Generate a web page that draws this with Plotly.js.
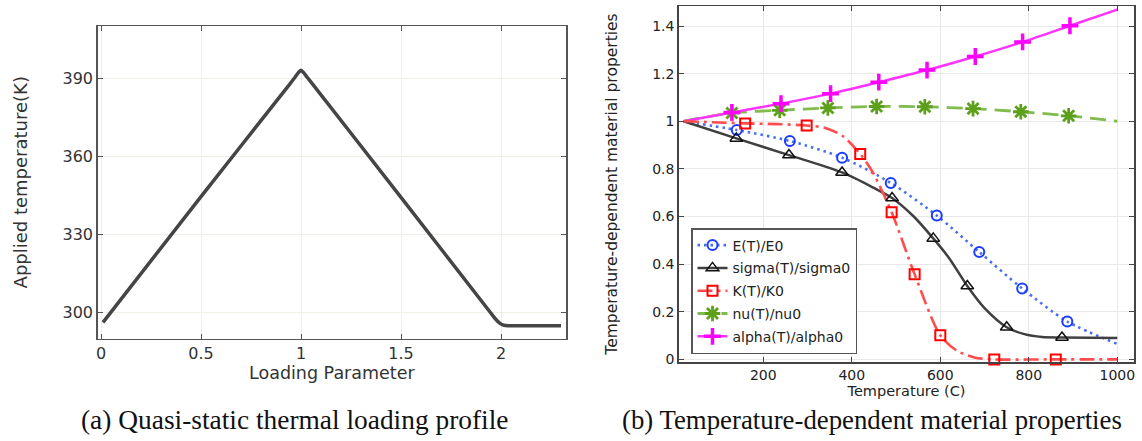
<!DOCTYPE html>
<html><head><meta charset="utf-8">
<script src="https://cdn.plot.ly/plotly-3.0.1.min.js"></script>
<style>html,body{margin:0;padding:0;background:#fff}#chart{width:1142px;height:441px}</style>
</head><body><div id="chart"></div>
<script>
// ---------- (a) Quasi-static thermal loading profile ----------
const loadParam   = [0.01, 0.5, 0.94, 0.97, 0.985, 1.0, 1.015, 1.03, 1.06, 1.5, 1.95, 1.975, 1.995, 2.015, 2.035, 2.06, 2.3];
const appliedTemp = [296.3, 344.6, 387.4, 390.4, 392.0, 393.1, 392.0, 390.5, 387.6, 344.3, 299.8, 297.4, 295.9, 295.2, 295.0, 295.0, 295.0];

// ---------- (b) Temperature-dependent material properties ----------
// E(T)/E0
const eT      = [20, 140, 260, 378, 488, 592, 688, 785, 887, 1000];
const eVal    = [1.0, 0.963, 0.917, 0.847, 0.741, 0.604, 0.451, 0.298, 0.159, 0.065];
const eMkT    = [140, 260, 378, 488, 592, 688, 785, 887];
const eMkVal  = [0.963, 0.917, 0.847, 0.741, 0.604, 0.451, 0.298, 0.159];
// sigma(T)/sigma0
const sT      = [20, 139, 258, 378, 450, 491, 540, 584, 620, 661, 700, 750, 790, 830, 875, 1000];
const sVal    = [1.0, 0.928, 0.858, 0.785, 0.72, 0.678, 0.6, 0.508, 0.425, 0.308, 0.215, 0.135, 0.106, 0.094, 0.092, 0.090];
const sMkT    = [139, 258, 378, 491, 584, 661, 750, 875];
const sMkVal  = [0.928, 0.858, 0.785, 0.678, 0.508, 0.308, 0.135, 0.092];
// K(T)/K0
const kT      = [20, 100, 159, 230, 298, 340, 380, 419, 446, 490, 542, 600, 637, 677, 722, 861, 1000];
const kVal    = [1.0, 0.995, 0.991, 0.988, 0.982, 0.972, 0.937, 0.862, 0.79, 0.618, 0.357, 0.101, 0.037, 0.008, 0.0, 0.0, 0.0];
const kMkT    = [159, 298, 419, 490, 542, 600, 722, 861];
const kMkVal  = [0.991, 0.982, 0.862, 0.618, 0.357, 0.101, 0.0, 0.0];
// nu(T)/nu0
const nT      = [20, 129, 237, 346, 456, 565, 674, 782, 890, 1000];
const nVal    = [1.0, 1.035, 1.046, 1.056, 1.062, 1.061, 1.053, 1.04, 1.023, 1.0];
const nMkT    = [129, 237, 346, 456, 565, 674, 782, 890];
const nMkVal  = [1.035, 1.046, 1.056, 1.062, 1.061, 1.053, 1.04, 1.023];
// alpha(T)/alpha0
const aT      = [20, 129, 240, 352, 461, 570, 679, 786, 893, 1000];
const aVal    = [1.0, 1.037, 1.074, 1.116, 1.164, 1.215, 1.272, 1.333, 1.401, 1.469];
const aMkT    = [129, 240, 352, 461, 570, 679, 786, 893];
const aMkVal  = [1.037, 1.074, 1.116, 1.164, 1.215, 1.272, 1.333, 1.401];

const seriesNames = ['E(T)/E0', 'sigma(T)/sigma0', 'K(T)/K0', 'nu(T)/nu0', 'alpha(T)/alpha0'];
const xTitleA = 'Loading Parameter', yTitleA = 'Applied temperature(K)';
const xTitleB = 'Temperature (C)',  yTitleB = 'Temperature-dependent material properties';
const captionA = '(a) Quasi-static thermal loading profile';
const captionB = '(b) Temperature-dependent material properties';

const styles = [
  {line:{color:'#4a6ef0', width:2.6, dash:'2.5px,4px'}, marker:{symbol:'circle-open', size:10, color:'#1a3cff', line:{width:2, color:'#1a3cff'}}},
  {line:{color:'#404040', width:2.5, dash:'solid'},     marker:{symbol:'triangle-up-open', size:11, color:'#111', line:{width:1.5, color:'#111'}}},
  {line:{color:'#ff4d4d', width:2.6, dash:'15px,5px,3px,5px'}, marker:{symbol:'square-open', size:10, color:'#ff0000', line:{width:2, color:'#ff0000'}}},
  {line:{color:'#80bb4c', width:2.8, dash:'16px,8px'},  marker:{symbol:'asterisk-open', size:13, color:'#5da01c', line:{width:2.8, color:'#5da01c'}}},
  {line:{color:'#ff33ff', width:2.5, dash:'solid'},     marker:{symbol:'cross-thin-open', size:12, color:'#ff00ff', line:{width:3.5, color:'#ff00ff'}}}
];
const lineData = [[eT,eVal],[sT,sVal],[kT,kVal],[nT,nVal],[aT,aVal]];
const markData = [[eMkT,eMkVal],[sMkT,sMkVal],[kMkT,kMkVal],[nMkT,nMkVal],[aMkT,aMkVal]];

const traces = [{
  x: loadParam, y: appliedTemp, xaxis:'x', yaxis:'y', mode:'lines', showlegend:false,
  line:{color:'#454545', width:3.5, shape:'spline', smoothing:0.6}, hoverinfo:'x+y'
}];
const drawOrder = [3, 4, 0, 1, 2];
drawOrder.forEach(i => {
  traces.push({x:lineData[i][0], y:lineData[i][1], xaxis:'x2', yaxis:'y2', mode:'lines',
    line:Object.assign({shape:'spline', smoothing:0.8}, styles[i].line), showlegend:false, legendgroup:'g'+i});
});
drawOrder.forEach(i => {
  traces.push({x:markData[i][0], y:markData[i][1], xaxis:'x2', yaxis:'y2', mode:'markers',
    marker:styles[i].marker, showlegend:false, legendgroup:'g'+i, cliponaxis:false});
});
[0,1,2,3,4].forEach(i => {
  traces.push({x:[null], y:[null], xaxis:'x2', yaxis:'y2', mode:'lines+markers', name:seriesNames[i],
    line:styles[i].line, marker:styles[i].marker, showlegend:true, legendgroup:'g'+i});
});

const W = 1142, H = 441;
const px = v => v / W, py = v => 1 - v / H;
const axisCommon = {showline:true, linecolor:'#555', linewidth:1.5, mirror:'ticks', ticks:'inside',
  ticklen:5, tickcolor:'#555', zeroline:false, showgrid:true, fixedrange:true};

const layout = {
  width:W, height:H, margin:{l:0, r:0, t:0, b:0}, autosize:false,
  paper_bgcolor:'#fff', plot_bgcolor:'#fff',
  font:{family:'DejaVu Sans, sans-serif', color:'#222'},
  showlegend:true,
  xaxis: Object.assign({}, axisCommon, {domain:[px(97.7), px(566)], anchor:'y', range:[-0.0165, 2.325],
    tick0:0, dtick:0.5, gridcolor:'#efefe8', tickfont:{size:16, color:'#333'},
    title:{text:xTitleA, font:{size:17.5, color:'#333'}, standoff:0}}),
  yaxis: Object.assign({}, axisCommon, {domain:[py(338.5), py(26)], anchor:'x', range:[290.1, 410.1],
    tick0:300, dtick:30, gridcolor:'#efefe8', tickfont:{size:16, color:'#333'},
    title:{text:yTitleA, font:{size:18, color:'#333'}, standoff:30}}),
  xaxis2: Object.assign({}, axisCommon, {domain:[px(678.7), px(1134.3)], anchor:'y2', range:[8.8, 1038.4],
    tick0:0, dtick:200, gridcolor:'#e9e9e9', linecolor:'#444', tickcolor:'#444', tickfont:{size:14, color:'#222'},
    title:{text:xTitleB, font:{size:14.5, color:'#222'}, standoff:0}}),
  yaxis2: Object.assign({}, axisCommon, {domain:[py(362), py(6)], anchor:'x2', range:[-0.011, 1.484],
    tick0:0, dtick:0.2, gridcolor:'#e9e9e9', linecolor:'#444', tickcolor:'#444', tickfont:{size:14, color:'#222'},
    title:{text:yTitleB, font:{size:15.5, color:'#222'}, standoff:30}}),
  legend:{x:px(691), y:py(228), xanchor:'left', yanchor:'top', bgcolor:'#fff', bordercolor:'#555', borderwidth:1.5,
    font:{size:14, color:'#222'}, traceorder:'grouped', tracegroupgap:1.6},
  annotations:[
    {text:captionA, xref:'paper', yref:'paper', x:px(294.5), y:py(420), xanchor:'center', yanchor:'middle',
     showarrow:false, font:{family:'Liberation Serif, Times New Roman, serif', size:27.4, color:'#111'}},
    {text:captionB, xref:'paper', yref:'paper', x:px(872), y:py(420), xanchor:'center', yanchor:'middle',
     showarrow:false, font:{family:'Liberation Serif, Times New Roman, serif', size:26.8, color:'#111'}}
  ]
};

Plotly.newPlot('chart', traces, layout, {staticPlot:true, displayModeBar:false});
</script>
</body></html>
